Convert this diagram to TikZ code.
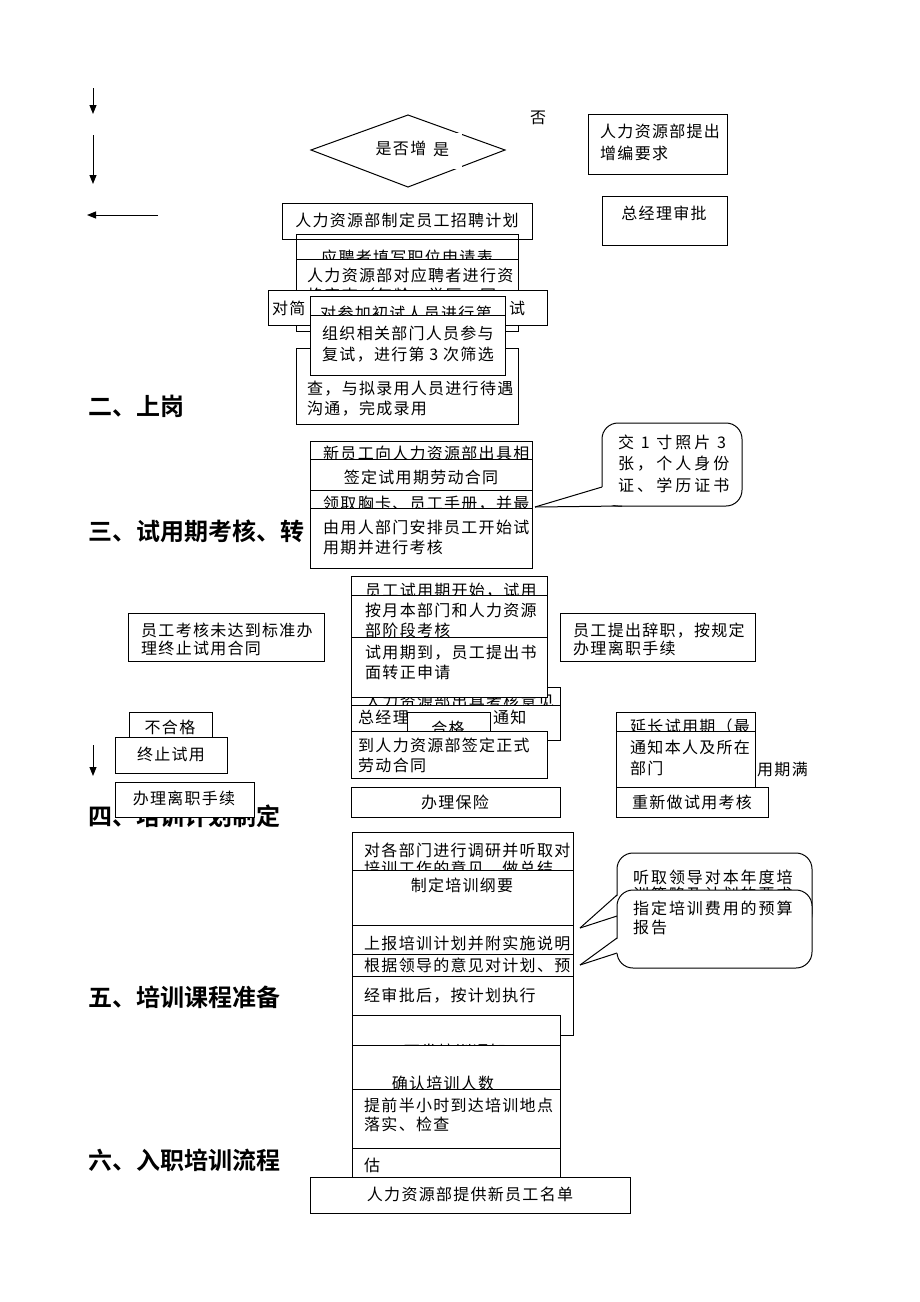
\documentclass[tikz,border=0pt]{standalone}
\usepackage{fontspec}
\usetikzlibrary{arrows.meta}
\newfontfamily\cjk[LetterSpace=8]{Noto Sans CJK SC}
\newfontfamily\cjkw[LetterSpace=19]{Noto Sans CJK SC}
\newfontfamily\cjkm[LetterSpace=12]{Noto Sans CJK SC}
\newfontfamily\cjkh[BoldFont={Noto Sans CJK SC Bold}]{Noto Sans CJK SC}
\newcommand\mybox[6][]{\node[box,#1,anchor=north west,minimum width={(#5-#3)*1pt},minimum height={(#6-#4)*1pt}] (#2) at (#3,#4) {};}
\tikzset{
  box/.style={draw=black,fill=white,line width=1pt,inner sep=0pt,outer sep=0pt},
  tx/.style={font=\cjk\fontsize{16}{19}\selectfont,inner sep=0pt,anchor=base west,yshift=-6pt},
  txc/.style={tx,anchor=base},
  txw/.style={tx,font=\cjkw\fontsize{16}{19}\selectfont},
  txm/.style={tx,font=\cjkm\fontsize{16}{19}\selectfont},
  hd/.style={font=\cjkh\bfseries\fontsize{24}{28}\selectfont,inner sep=0pt,anchor=base west,yshift=-8.5pt},
  arr/.style={line width=1pt,-{Triangle[length=9pt,width=7pt]}},
  ln/.style={line width=1pt},
  callout/.style={box,rounded corners=16pt}
}
\begin{document}
\begin{tikzpicture}[x=1pt,y=-1pt]
\useasboundingbox[fill=white] (0,0) rectangle (920,1302);
% free arrows
\coordinate (a1s) at (93,88); \coordinate (a1e) at (93,114);
\coordinate (a2s) at (93,135); \coordinate (a2e) at (93,184);
\coordinate (a3s) at (158,215); \coordinate (a3e) at (87,215);
\coordinate (a4s) at (93,745); \coordinate (a4e) at (93,776);
\draw[arr] (a1s) -- (a1e);
\draw[arr] (a2s) -- (a2e);
\draw[arr] (a3s) -- (a3e);
\draw[arr] (a4s) -- (a4e);
% top decision
\node[txc] (fou) at (538,117) {否};
\coordinate (dl) at (311,150); \coordinate (dt) at (408,115);
\coordinate (dr) at (505,150); \coordinate (db) at (408,187);
\draw[ln] (dl) -- (dt) -- (dr) -- (db) -- cycle;
\node[txc] (dtxt) at (401,148) {是否增};
\node[fill=white,inner sep=0pt,anchor=north west,minimum width=30pt,minimum height=36pt] (shicover) at (432,133) {};
\node[txc] (shi) at (441,149) {是};
\mybox{bA}{588}{114}{727}{174}
\node[tx] (tA1) at (600,131) {人力资源部提出};
\node[tx] (tA2) at (600,153) {增编要求};
\mybox{bB}{602}{196}{727}{245}
\node[txc] (tB) at (664,213) {总经理审批};
\mybox{bC}{282}{203}{532}{239}
\node[txc] (tC) at (407,220) {人力资源部制定员工招聘计划};
\mybox{bD}{296}{234}{518}{300}
\node[txc] (tD) at (407,257) {应聘者填写职位申请表};
\draw[ln] (bC.south west) -- (bC.south east);
\mybox{bE}{296}{259}{518}{331}
\node[tx] (tE1) at (307,275) {人力资源部对应聘者进行资};
\node[tx] (tE2) at (307,295) {格审查（年龄、学历、同};
\mybox{bF}{268}{290}{547}{325}
\node[tx] (tF1) at (272,308) {对简};
\node[txc] (tF2) at (517,308) {试};
\mybox{bH}{310}{296}{505}{340}
\node[txc] (tH) at (406,313) {对参加初试人员进行第};
\mybox{bG}{296}{348}{518}{424}
\node[tx] (tG1) at (307,388) {查，与拟录用人员进行待遇};
\node[tx] (tG2) at (307,408) {沟通，完成录用};
\mybox{bI}{310}{315}{505}{375}
\node[tx] (tI1) at (322,333) {组织相关部门人员参与};
\node[tx] (tI2) at (322,354) {复试，进行第 3 次筛选};
% section 2
\node[hd] (h2) at (88,407) {二、上岗};
\mybox{bJ}{310}{441}{532}{470}
\node[tx] (tJ) at (323,453) {新员工向人力资源部出具相};
\mybox{bK}{310}{459}{532}{495}
\node[txc] (tK) at (421,477) {签定试用期劳动合同};
\mybox{bL}{310}{490}{532}{515}
\node[tx] (tL) at (323,503) {领取胸卡、员工手册，并最};
\node[hd] (h3) at (88,532) {三、试用期考核、转};
\mybox{bM}{310}{508}{532}{568}
\node[tx] (tM1) at (323,527) {由用人部门安排员工开始试};
\node[tx] (tM2) at (323,547) {用期并进行考核};
\mybox[callout]{c1}{602}{423}{742}{506}
\coordinate (c1t) at (535,507);
\fill[white] (c1t) -- (603,487) -- (622,505) -- cycle;
\draw[ln] (c1t) -- (602,487);
\draw[ln] (c1t) -- (622,506);
\node[txw] (tc11) at (618,442) {交 1 寸照片 3};
\node[txw] (tc12) at (618,463) {张，个人身份};
\node[txw] (tc13) at (618,485) {证、学历证书};
% section 3
\mybox{bN}{128}{613}{324}{661}
\node[tx] (tN1) at (141,630) {员工考核未达到标准办};
\node[tx] (tN2) at (141,648) {理终止试用合同};
\mybox{bO}{560}{613}{755}{661}
\node[tx] (tO1) at (573,630) {员工提出辞职，按规定};
\node[tx] (tO2) at (573,648) {办理离职手续};
\mybox{bP}{351}{576}{547}{620}
\node[tx] (tP) at (365,590) {员工试用期开始，试用};
\mybox{bQ}{351}{595}{547}{645}
\node[tx] (tQ1) at (365,610) {按月本部门和人力资源};
\node[tx] (tQ2) at (365,630) {部阶段考核};
\mybox{bR}{351}{687}{560}{720}
\node[tx] (tR) at (365,701) {人力资源部出具考核意见};
\mybox{bS}{351}{637}{547}{697}
\node[tx] (tS1) at (365,652) {试用期到，员工提出书};
\node[tx] (tS2) at (365,672) {面转正申请};
\mybox{bT}{351}{705}{560}{740}
\node[tx] (tT1) at (358,717) {总经理};
\node[tx] (tT2) at (493,717) {通知};
\mybox{bU}{407}{712}{490}{740}
\node[txc] (tU) at (448,728) {合格};
\mybox{bV}{351}{731}{547}{778}
\node[tx] (tV1) at (358,745) {到人力资源部签定正式};
\node[tx] (tV2) at (358,765) {劳动合同};
\mybox{bW}{351}{787}{560}{817}
\node[txc] (tW) at (455,802) {办理保险};
\mybox{bX}{129}{712}{212}{745}
\node[txc] (tX) at (170,727) {不合格};
\mybox{bY}{115}{737}{227}{773}
\node[txc] (tY) at (171,754) {终止试用};
\node[hd] (h4) at (88,817) {四、培训计划制定};
\mybox{bZ}{115}{782}{254}{817}
\node[txc] (tZ) at (184,798) {办理离职手续};
\mybox{bAA}{616}{712}{755}{740}
\node[tx] (tAA) at (630,726) {延长试用期（最};
\node[tx] (tman) at (757,769) {用期满};
\mybox{bBB}{616}{731}{755}{787}
\node[tx] (tBB1) at (630,747) {通知本人及所在};
\node[tx] (tBB2) at (630,768) {部门};
\mybox{bCC}{616}{787}{768}{817}
\node[txc] (tCC) at (692,802) {重新做试用考核};
% section 4
\mybox{bDD}{352}{832}{573}{880}
\node[tx] (tDD1) at (364,850) {对各部门进行调研并听取对};
\node[tx] (tDD2) at (364,868) {培训工作的意见，做总结};
\mybox{bEE}{352}{870}{573}{925}
\node[txc] (tEE) at (462,885) {制定培训纲要};
\mybox{bFF}{352}{925}{573}{960}
\node[tx] (tFF) at (364,943) {上报培训计划并附实施说明};
\mybox[callout]{c2}{617}{853}{812}{930}
\coordinate (c2t) at (580,928);
\fill[white] (c2t) -- (618.5,895) -- (618.5,916) -- cycle;
\draw[ln] (c2t) -- (617,895);
\draw[ln] (c2t) -- (617,916);
\node[txm] (tc21) at (633,877) {听取领导对本年度培};
\node[txm] (tc22) at (633,894) {训策略及计划的要求};
\mybox[callout]{c3}{617}{890}{812}{968}
\coordinate (c3t) at (580,965);
\fill[white] (c3t) -- (618.5,938) -- (618.5,953) -- cycle;
\draw[ln] (c3t) -- (617,938);
\draw[ln] (c3t) -- (617,953);
\node[txm] (tc31) at (633,908) {指定培训费用的预算};
\node[txm] (tc32) at (633,927) {报告};
% section 5
\node[hd] (h5) at (88,998) {五、培训课程准备};
\mybox{bGG}{352}{954}{573}{1035}
\node[tx] (tGG) at (364,965) {根据领导的意见对计划、预};
\mybox{bHH}{352}{976}{573}{1035}
\node[tx] (tHH) at (364,995) {经审批后，按计划执行};
\mybox{bII}{352}{1015}{560}{1060}
\node[txc] (tII) at (455,1051) {下发培训通知};
\mybox{bJJ}{352}{1045}{560}{1095}
\node[txc] (tJJ) at (443,1083) {确认培训人数};
\mybox{bKK}{352}{1089}{560}{1148}
\node[tx] (tKK1) at (364,1105) {提前半小时到达培训地点};
\node[tx] (tKK2) at (364,1124) {落实、检查};
\node[hd] (h6) at (88,1161) {六、入职培训流程};
\mybox{bLL}{352}{1148}{560}{1190}
\node[tx] (tLL) at (364,1165) {估};
\mybox{bMM}{310}{1177}{630}{1213}
\node[txc] (tMM) at (470,1194) {人力资源部提供新员工名单};
\end{tikzpicture}
\end{document}
